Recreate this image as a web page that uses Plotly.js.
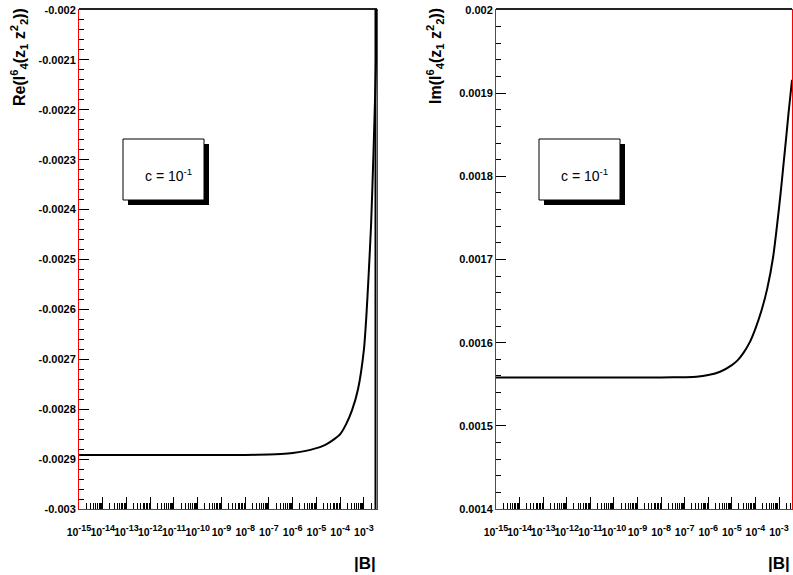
<!DOCTYPE html>
<html>
<head>
<meta charset="utf-8">
<script src="https://cdn.plot.ly/plotly-3.0.1.min.js"></script>
<style>html,body{margin:0;padding:0;background:#fff;}#chart{width:793px;height:575px;}</style>
</head>
<body>
<div id="chart"></div>
<script>
// ---- data ----
const B = [1e-15,1e-14,1e-13,1e-12,1e-11,1e-10,1e-9,1e-8,1e-7,3.16e-7,1e-6,3.16e-6,1e-5,1.78e-5,3.16e-5,5.62e-5,1e-4,1.78e-4,3.16e-4,5.62e-4,1e-3,1.26e-3,1.58e-3,2.0e-3,2.51e-3,3.16e-3,3.55e-3];
const reI = [-0.002892,-0.002892,-0.002892,-0.002892,-0.002892,-0.002892,-0.002892,-0.0028918,-0.002891,-0.002890,-0.002888,-0.002884,-0.002878,-0.002874,-0.002868,-0.002860,-0.002850,-0.002830,-0.002802,-0.002760,-0.002680,-0.002615,-0.002530,-0.002430,-0.002290,-0.002120,-0.002];
const imI = [0.001558,0.001558,0.001558,0.001558,0.001558,0.001558,0.001558,0.0015581,0.0015585,0.001559,0.001561,0.001565,0.001573,0.001579,0.001588,0.001600,0.001617,0.001638,0.001665,0.001703,0.001762,0.001789,0.001817,0.001846,0.001875,0.001902,0.001916];

const xMajorVals = [1e-15,1e-14,1e-13,1e-12,1e-11,1e-10,1e-9,1e-8,1e-7,1e-6,1e-5,1e-4,1e-3];
const xMajorExp = ['-15','-14','-13','-12','-11','-10','-9','-8','-7','-6','-5','-4','-3'];
const reTickVals = [-0.003,-0.0029,-0.0028,-0.0027,-0.0026,-0.0025,-0.0024,-0.0023,-0.0022,-0.0021,-0.002];
const reTickText = ['-0.003','-0.0029','-0.0028','-0.0027','-0.0026','-0.0025','-0.0024','-0.0023','-0.0022','-0.0021','-0.002'];
const imTickVals = [0.0014,0.0015,0.0016,0.0017,0.0018,0.0019,0.002];
const imTickText = ['0.0014','0.0015','0.0016','0.0017','0.0018','0.0019','0.002'];
const cLabel = 'c = 10<sup>-1</sup>';
const reTitle = '<b>Re(I<sup>6</sup><sub>4</sub>(z<sub>1</sub> z<sup>2</sup><sub>2</sub>))</b>';
const imTitle = '<b>Im(I<sup>6</sup><sub>4</sub>(z<sub>1</sub> z<sup>2</sup><sub>2</sub>))</b>';
const xTitle = '<b>|B|</b>';

const xMajorText = xMajorExp.map(e => '10<sup><span style="font-size:9px">' + e + '</span></sup>');
// minor log ticks
const xMinorVals = [];
for (const d of xMajorVals) { for (let k = 2; k <= 9; k++) xMinorVals.push(k * d); }

// ---- layout helpers ----
const W = 793, H = 575;
const px = v => v / W, py = v => 1 - v / H;
const RED = '#ff0000';
const FAM = 'Liberation Sans, Arial, sans-serif';

function xAxis(domain, anchor) {
  return {
    type: 'log', domain: domain, anchor: anchor, range: [-15, -2.45],
    tickmode: 'array', tickvals: xMajorVals, ticktext: xMajorText, tickangle: 0,
    ticks: 'inside', ticklen: 12, tickwidth: 1, tickcolor: '#000',
    minor: { tickmode: 'array', tickvals: xMinorVals, ticks: 'inside', ticklen: 6, tickwidth: 1, tickcolor: '#000' },
    showgrid: false, zeroline: false, showline: true, linecolor: RED, linewidth: 1, mirror: true,
    tickfont: { family: FAM, size: 10.5, color: '#000', weight: 'bold' },
    ticklabelstandoff: 13, automargin: false
  };
}
function yAxis(domain, anchor, range, vals, text) {
  return {
    domain: domain, anchor: anchor, range: range,
    tickmode: 'array', tickvals: vals, ticktext: text,
    ticks: 'inside', ticklen: 10, tickwidth: 1, tickcolor: '#000',
    minor: { dtick: 0.00002, ticks: 'inside', ticklen: 5, tickwidth: 1, tickcolor: '#000' },
    showgrid: false, zeroline: false, showline: true, linecolor: RED, linewidth: 1, mirror: true,
    tickfont: { family: FAM, size: 11, color: '#000', weight: 'bold' },
    automargin: false
  };
}

const yDom = [py(509), py(10)];
const lineStyle = { color: '#000', width: 2, shape: 'spline', smoothing: 0.6 };
const traces = [
  { x: B, y: reI, xaxis: 'x', yaxis: 'y', type: 'scatter', mode: 'lines', line: lineStyle, hoverinfo: 'skip' },
  { x: B, y: imI, xaxis: 'x2', yaxis: 'y2', type: 'scatter', mode: 'lines', line: lineStyle, hoverinfo: 'skip' }
];

function box(x0, y0, x1, y1) {
  return [
    { type: 'rect', xref: 'paper', yref: 'paper', x0: px(x0 + 5), x1: px(x1 + 5), y0: py(y1 + 5), y1: py(y0 + 5), fillcolor: '#000', line: { width: 0 } },
    { type: 'rect', xref: 'paper', yref: 'paper', x0: px(x0), x1: px(x1), y0: py(y1), y1: py(y0), fillcolor: '#fff', line: { color: '#000', width: 1 } }
  ];
}

const shapes = [].concat(
  box(123, 139, 204, 200),
  box(539, 139, 620, 200),
  [
    { type: 'line', xref: 'paper', yref: 'paper', x0: px(79), x1: px(377), y0: py(9), y1: py(9), line: { color: '#222', width: 2 } },
    { type: 'line', xref: 'paper', yref: 'paper', x0: px(375.5), x1: px(375.5), y0: py(9), y1: py(509), line: { color: '#000', width: 2 } },
    { type: 'line', xref: 'paper', yref: 'paper', x0: px(496), x1: px(792), y0: py(9), y1: py(9), line: { color: '#222', width: 2 } }
  ]
);

const annotations = [
  { xref: 'paper', yref: 'paper', x: px(168), y: py(175), text: cLabel, showarrow: false, font: { family: FAM, size: 14, color: '#000' }, xanchor: 'center', yanchor: 'middle' },
  { xref: 'paper', yref: 'paper', x: px(584), y: py(175), text: cLabel, showarrow: false, font: { family: FAM, size: 14, color: '#000' }, xanchor: 'center', yanchor: 'middle' },
  { xref: 'paper', yref: 'paper', x: px(19), y: py(6), text: reTitle, textangle: -90, showarrow: false, font: { family: FAM, size: 16, color: '#000' }, xanchor: 'center', yanchor: 'top' },
  { xref: 'paper', yref: 'paper', x: px(435), y: py(6), text: imTitle, textangle: -90, showarrow: false, font: { family: FAM, size: 16, color: '#000' }, xanchor: 'center', yanchor: 'top' },
  { xref: 'paper', yref: 'paper', x: px(378), y: py(563), text: xTitle, showarrow: false, font: { family: FAM, size: 17, color: '#000' }, xanchor: 'right', yanchor: 'middle' },
  { xref: 'paper', yref: 'paper', x: px(792), y: py(563), text: xTitle, showarrow: false, font: { family: FAM, size: 17, color: '#000' }, xanchor: 'right', yanchor: 'middle' }
];

const layout = {
  width: W, height: H,
  margin: { l: 0, r: 0, t: 0, b: 0, pad: 0 },
  paper_bgcolor: '#fff', plot_bgcolor: '#fff',
  showlegend: false,
  xaxis: xAxis([px(79), px(377)], 'y'),
  yaxis: yAxis(yDom, 'x', [-0.003, -0.002], reTickVals, reTickText),
  xaxis2: xAxis([px(496), px(792)], 'y2'),
  yaxis2: yAxis(yDom, 'x2', [0.0014, 0.002], imTickVals, imTickText),
  shapes: shapes,
  annotations: annotations
};

Plotly.newPlot('chart', traces, layout, { staticPlot: true, displayModeBar: false });
</script>
</body>
</html>
